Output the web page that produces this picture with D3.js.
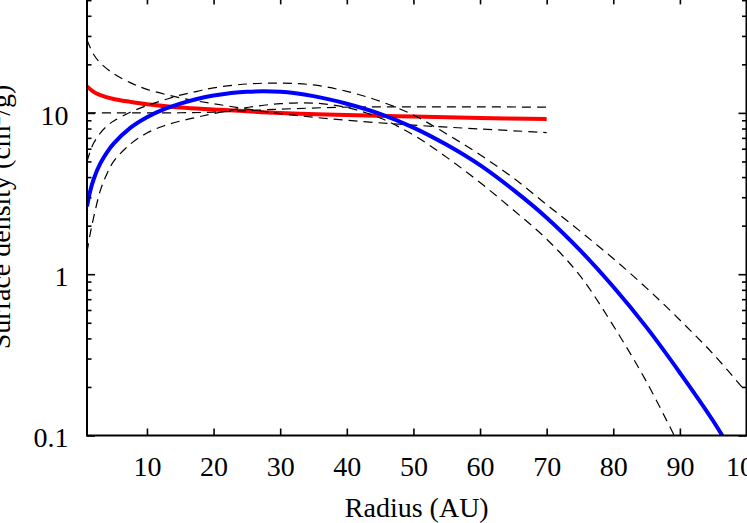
<!DOCTYPE html>
<html>
<head>
<meta charset="utf-8">
<script src="https://cdn.jsdelivr.net/npm/d3@7"></script>
<style>
  html, body { margin: 0; padding: 0; background: #fff; overflow: hidden; }
  svg { display: block; font-family: "Liberation Serif", "DejaVu Serif", serif; }
</style>
</head>
<body>
<svg id="grafica" width="747" height="523"></svg>
<script>
let radiusRed = [1, 2, 3, 5, 7.5, 10, 15, 20, 30, 40, 50, 60, 70]
let radiusBlue = [1, 1.5, 2, 3, 4, 5, 7.5, 10, 12.5, 15, 17.5, 20, 25, 30, 35, 40, 45, 50, 55, 60, 65, 70, 75, 80, 85, 90, 95, 100]

// red model (solid) and its two dashed curves
let redFit = [14.6, 13.5, 12.9, 12.2, 11.7, 11.3, 10.8, 10.5, 10.0, 9.7, 9.5, 9.3, 9.15]
let redSteep = [28.3, 23.0, 20.4, 17.5, 15.4, 14.0, 12.4, 11.4, 9.9, 9.0, 8.4, 7.95, 7.55]
let redFlat = [10.0, 10.0, 10.0, 10.0, 10.0, 10.0, 10.02, 10.1, 10.55, 10.85, 10.9, 10.9, 10.85]

// blue model (solid) and the dashed curves above and below it
let blueFit = [2.63, 3.3, 3.88, 4.86, 5.7, 6.45, 8.07, 9.39, 10.5, 11.4, 12.2, 12.8, 13.5, 13.5, 12.7, 11.4, 9.86, 8.11, 6.34, 4.74, 3.33, 2.24, 1.41, 0.836, 0.468, 0.245, 0.123, 0.056]
let blueUpper = [5.0, 5.8, 6.5, 7.5, 8.3, 8.9, 10.1, 11.1, 12.0, 12.9, 13.6, 14.3, 15.1, 15.3, 14.9, 13.6, 11.8, 9.7, 7.4, 5.5, 3.95, 2.7, 1.85, 1.25, 0.82, 0.52, 0.32, 0.185]
let blueLower = [1.37, 1.8, 2.25, 3.3, 4.2, 5.0, 6.4, 7.5, 8.3, 8.9, 9.4, 9.9, 10.8, 11.4, 11.5, 10.8, 9.3, 7.3, 5.3, 3.7, 2.5, 1.65, 0.98, 0.48, 0.215, 0.085, null, null]

// ticks
let xTicks = [10, 20, 30, 40, 50, 60, 70, 80, 90, 100]
let yTicks = [0.1, 1, 10]
let yMinor = [0.2, 0.3, 0.4, 0.5, 0.6, 0.7, 0.8, 0.9, 2, 3, 4, 5, 6, 7, 8, 9, 20, 30, 40, 50]

let svg = d3.select("#grafica")
let plotLeft = 87, plotRight = 746.5, plotTop = -2.6, plotBottom = 435.5
let fontSize = 28
let serif = '"Liberation Serif", "DejaVu Serif", serif'

let x = d3.scaleLinear().domain([1, 100]).range([plotLeft, plotRight])
let y = d3.scaleLog().domain([0.1, 52]).range([plotBottom, plotTop])

svg.append("clipPath").attr("id", "area")
    .append("rect")
    .attr("x", plotLeft).attr("y", plotTop)
    .attr("width", plotRight - plotLeft).attr("height", plotBottom - plotTop)

let plot = svg.append("g").attr("clip-path", "url(#area)")

function dibujar(radius, values, color, width, dash) {
    let line = d3.line()
        .defined(d => d[1] != null)
        .x(d => x(d[0]))
        .y(d => y(d[1]))
        .curve(d3.curveCatmullRom.alpha(0.5))
    plot.append("path")
        .datum(radius.map((r, i) => [r, values[i]]))
        .attr("d", line)
        .attr("fill", "none")
        .attr("stroke", color)
        .attr("stroke-width", width)
        .attr("stroke-dasharray", dash)
}

dibujar(radiusRed, redFit, "#ff0000", 4, null)
dibujar(radiusRed, redSteep, "#000", 1.2, "9,6")
dibujar(radiusRed, redFlat, "#000", 1.2, "9,6")
dibujar(radiusBlue, blueFit, "#0000ff", 4, null)
dibujar(radiusBlue, blueUpper, "#000", 1.2, "9,6")
dibujar(radiusBlue, blueLower, "#000", 1.2, "9,6")

// Axes, ticks pointing inwards like gnuplot
function estilo(g) {
    g.attr("font-family", serif).attr("font-size", fontSize)
    g.select(".domain").remove()
    g.selectAll("text").attr("fill", "#000")
}

svg.append("g")
    .attr("transform", `translate(0,${plotBottom})`)
    .call(d3.axisBottom(x).tickValues(xTicks).tickSize(-7).tickSizeOuter(0).tickPadding(21))
    .call(estilo)

svg.append("g")
    .attr("transform", `translate(0,${plotTop})`)
    .call(d3.axisTop(x).tickValues(xTicks).tickSize(-7).tickSizeOuter(0).tickFormat(""))
    .call(estilo)

svg.append("g")
    .attr("transform", `translate(${plotLeft},0)`)
    .call(d3.axisLeft(y).tickValues(yTicks).tickSize(-8).tickSizeOuter(0).tickPadding(18.5).tickFormat(d => String(d)))
    .call(estilo)
    .call(g => g.selectAll("text").attr("dy", "0.4em"))

svg.append("g")
    .attr("transform", `translate(${plotLeft},0)`)
    .call(d3.axisLeft(y).tickValues(yMinor).tickSize(-4.5).tickSizeOuter(0).tickFormat(""))
    .call(estilo)

svg.append("g")
    .attr("transform", `translate(${plotRight},0)`)
    .call(d3.axisRight(y).tickValues(yTicks).tickSize(-8).tickSizeOuter(0).tickFormat(""))
    .call(estilo)

svg.append("g")
    .attr("transform", `translate(${plotRight},0)`)
    .call(d3.axisRight(y).tickValues(yMinor).tickSize(-4.5).tickSizeOuter(0).tickFormat(""))
    .call(estilo)

svg.selectAll(".tick line").attr("stroke", "#000").attr("stroke-width", 1.6)

// border
svg.append("rect")
    .attr("x", plotLeft).attr("y", plotTop)
    .attr("width", plotRight - plotLeft).attr("height", plotBottom - plotTop)
    .attr("fill", "none")
    .attr("stroke", "#000")
    .attr("stroke-width", 2)

// labels
svg.append("text")
    .attr("x", (plotLeft + plotRight) / 2)
    .attr("y", 517)
    .attr("text-anchor", "middle")
    .attr("font-size", fontSize)
    .text("Radius (AU)")

let ylab = svg.append("text")
    .attr("transform", "translate(10,217) rotate(-90)")
    .attr("text-anchor", "middle")
    .attr("font-size", fontSize)
ylab.append("tspan").text("Surface density (cm")
ylab.append("tspan").attr("font-size", 19).attr("baseline-shift", "super").text("2")
ylab.append("tspan").text("/g)")
</script>
</body>
</html>
